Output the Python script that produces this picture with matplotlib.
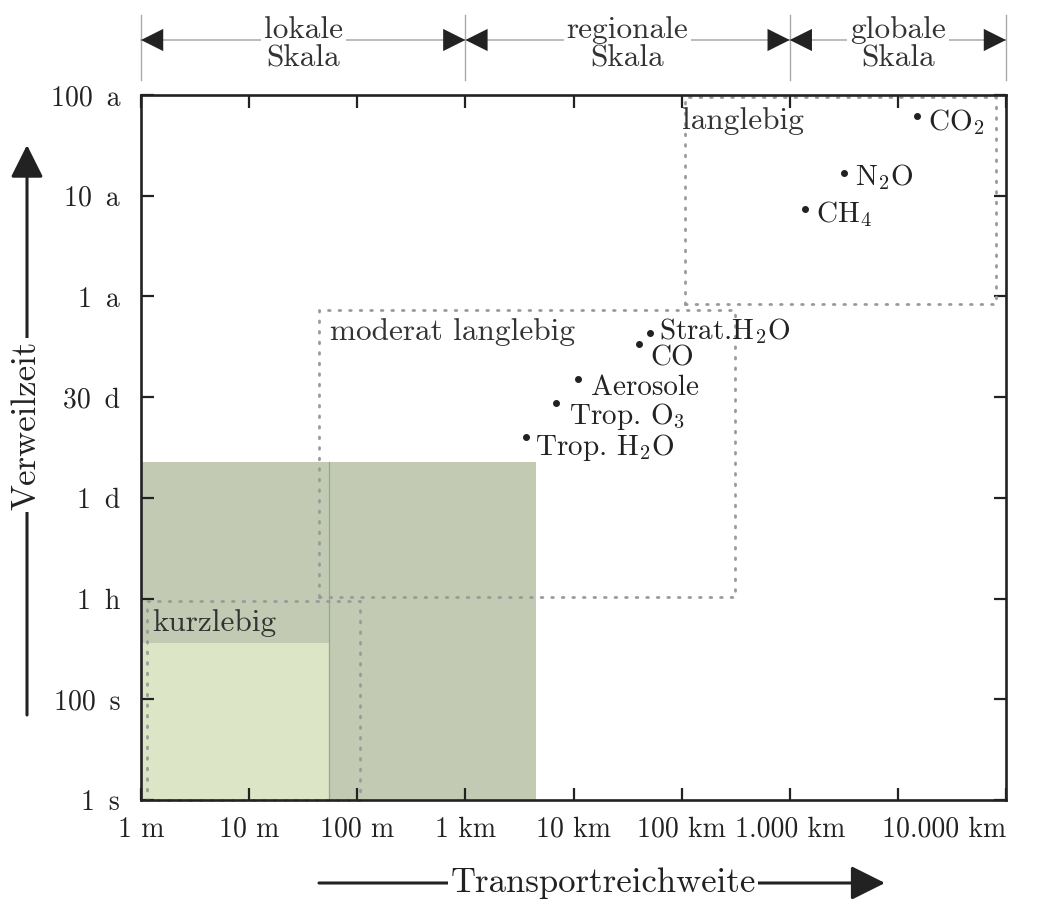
import matplotlib
matplotlib.use("Agg")
import matplotlib.pyplot as plt
import matplotlib.transforms as mtransforms
from matplotlib.patches import Rectangle

plt.rcParams['font.family'] = ['cmr10', 'DejaVu Serif']
plt.rcParams['mathtext.fontset'] = 'cm'
plt.rcParams['axes.formatter.use_mathtext'] = True

# ---- data ----
x_ticks = [0, 1, 2, 3, 4, 5, 6, 7, 8]
x_tick_labels = ["1 m", "10 m", "100 m", "1 km", "10 km", "100 km", "1.000 km", "", "10.000 km"]
y_ticks = [0, 1, 2, 3, 4, 5, 6, 7]
y_tick_labels = ["1\u2002s", "100\u2002s", "1\u2002h", "1\u2002d", "30\u2002d", "1\u2002a", "10\u2002a", "100\u2002a"]

species = [r"CO$_2$", r"N$_2$O", r"CH$_4$", r"Strat.H$_2$O", "CO", "Aerosole",
           r"Trop. O$_3$", r"Trop. H$_2$O"]
species_x = [7.18, 6.50, 6.14, 4.71, 4.61, 4.04, 3.84, 3.56]
species_y = [6.79, 6.23, 5.87, 4.64, 4.53, 4.18, 3.94, 3.60]

# dotted category boxes
box_names = ["langlebig", "moderat langlebig", "kurzlebig"]
box_x0 = [5.03, 1.65, 0.055]
box_x1 = [7.91, 5.49, 2.03]
box_y0 = [4.92, 2.02, 0.0]
box_y1 = [6.98, 4.87, 1.98]

# shaded areas
dark_x = [0.0, 3.65]
dark_y = [0.0, 3.36]
light_x = [0.0, 1.74]
light_y = [0.0, 1.56]

# spatial scale bands
scale_names = ["lokale\nSkala", "regionale\nSkala", "globale\nSkala"]
scale_edges = [0, 3, 6, 8]

# ---- figure ----
fig = plt.figure(figsize=(10.56, 9.01), dpi=100)
ax = fig.add_axes([141/1056, 1-800/901, 865/1056, 705/901])
ax.set_xlim(0, 8)
ax.set_ylim(0, 7)

dark = '#222222'
grey = '#9a9a9a'

# shaded rectangles
ax.add_patch(Rectangle((dark_x[0], dark_y[0]), dark_x[1]-dark_x[0], dark_y[1]-dark_y[0],
                       facecolor='#c2cab3', edgecolor='none', zorder=1))
ax.add_patch(Rectangle((light_x[0], light_y[0]), light_x[1]-light_x[0], light_y[1]-light_y[0],
                       facecolor='#dce6c6', edgecolor='none', zorder=1.1))
ax.plot([light_x[1], light_x[1]], [dark_y[0], dark_y[1]], color='#9aa68a', lw=0.9, zorder=1.2)

# dotted boxes
for x0, x1, y0, y1 in zip(box_x0, box_x1, box_y0, box_y1):
    ax.plot([x0, x1, x1, x0, x0], [y0, y0, y1, y1, y0], color=grey, lw=2.0,
            linestyle=(0, (0.6, 3.2)), dash_capstyle='round', zorder=2, clip_on=False)

box_text_pos = [(5.0, 6.88), (1.75, 4.79), (0.1, 1.90)]
for name, (tx, ty) in zip(box_names, box_text_pos):
    ax.text(tx, ty, name, fontsize=22.5, color='#333333', ha='left', va='top', zorder=3)

# points
ax.plot(species_x, species_y, 'o', color=dark, ms=4, zorder=4, clip_on=False)
label_offsets = [(11, -2), (11, -1), (11, -2), (9, 5), (11, -12), (13, -6), (13, -9), (9, -6)]
for name, x, y, (dx, dy) in zip(species, species_x, species_y, label_offsets):
    ax.annotate(name, (x, y), xytext=(dx, dy), textcoords='offset pixels',
                fontsize=21, color=dark, ha='left', va='center_baseline', zorder=5)

# axes styling
ax.set_xticks(x_ticks)
ax.set_xticklabels(x_tick_labels)
ax.set_yticks(y_ticks)
ax.set_yticklabels(y_tick_labels)
ax.tick_params(direction='in', length=9, width=1.6, color=dark, labelsize=20,
               top=True, right=True, labelcolor=dark)
ax.tick_params(axis='x', pad=12)
ax.tick_params(axis='y', pad=15)
ax.get_xticklabels()[-1].set_horizontalalignment('right')
for s in ax.spines.values():
    s.set_linewidth(1.9)
    s.set_color(dark)

# ---- top scale annotation ----
trans = mtransforms.blended_transform_factory(ax.transData, ax.transAxes)
y_arrow = (800-40)/705
for xe in scale_edges:
    ax.plot([xe, xe], [(800-80)/705, (800-15)/705], color='#aaaaaa', lw=1.0,
            transform=trans, clip_on=False)
head_len = 0.2
for i, name in enumerate(scale_names):
    a, b = scale_edges[i], scale_edges[i+1]
    ax.plot([a, b], [y_arrow, y_arrow], color='#aaaaaa', lw=1.1, transform=trans, clip_on=False)
    for tip, back in [(a, a + head_len), (b, b - head_len)]:
        ax.annotate('', xy=(tip, y_arrow), xycoords=trans, xytext=(back, y_arrow), textcoords=trans,
                    arrowprops=dict(arrowstyle='-|>,head_length=1.0,head_width=0.5',
                                    mutation_scale=16, color=dark, lw=0, shrinkA=0, shrinkB=0),
                    annotation_clip=False)
    ax.text((a + b) / 2, y_arrow - 0.006, name, transform=trans, ha='center', va='center',
            fontsize=22.5, color='#333333', linespacing=1.0,
            bbox=dict(facecolor='white', edgecolor='none', pad=2))

# ---- left axis arrow ----
xl = (27-141)/865
ax.annotate('', xy=(xl, (800-145)/705), xycoords='axes fraction',
            xytext=(xl, (800-715)/705), textcoords='axes fraction',
            arrowprops=dict(arrowstyle='-|>,head_length=1.0,head_width=0.5',
                            mutation_scale=20, color=dark, lw=2.2, shrinkA=0, shrinkB=0),
            annotation_clip=False)
ax.text(xl, (800-425)/705, 'Verweilzeit', transform=ax.transAxes, rotation=90,
        ha='center', va='center', fontsize=25, color=dark,
        bbox=dict(facecolor='white', edgecolor='none', pad=2))

# ---- bottom axis arrow ----
yb = (800-883)/705
ax.annotate('', xy=((885-141)/865, yb), xycoords='axes fraction',
            xytext=((319-141)/865, yb), textcoords='axes fraction',
            arrowprops=dict(arrowstyle='-|>,head_length=1.0,head_width=0.5',
                            mutation_scale=21, color=dark, lw=2.2, shrinkA=0, shrinkB=0),
            annotation_clip=False)
ax.text((603-141)/865, yb, 'Transportreichweite', transform=ax.transAxes,
        ha='center', va='center', fontsize=25, color=dark,
        bbox=dict(facecolor='white', edgecolor='none', pad=2))

fig.savefig('out.png', dpi=100)
